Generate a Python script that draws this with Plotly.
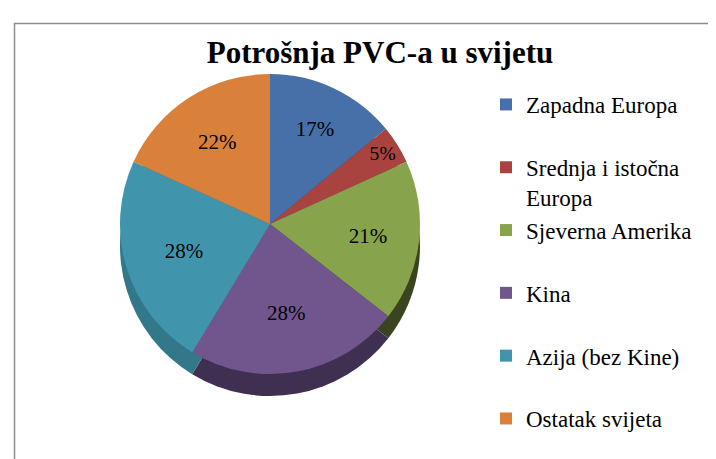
import plotly.graph_objects as go

categories = ["Zapadna Europa", "Srednja i istočna Europa", "Sjeverna Amerika",
              "Kina", "Azija (bez Kine)", "Ostatak svijeta"]
values = [17, 5, 21, 28, 28, 22]
colors = ["#4670A7", "#A9433F", "#87A34B", "#71568D", "#4095AD", "#D9813B"]
side_colors = ["#2C4A70", "#6E2A28", "#3A4520", "#3F3052", "#33788A", "#8E5426"]

# legend labels (wrapped / spaced like the original legend)
legend_labels = [
    "Zapadna Europa<br> ",
    "Srednja i istočna<br>Europa",
    "Sjeverna Amerika<br> ",
    "Kina<br> ",
    "Azija (bez Kine)<br> ",
    "Ostatak svijeta",
]

W, H = 716, 459
cx, cy, r = 262, 216, 150
depth = 22

def dom(cx, cy, r):
    return dict(x=[(cx - r) / W, (cx + r) / W], y=[1 - (cy + r) / H, 1 - (cy - r) / H])

SERIF = "Liberation Serif, Times New Roman, serif"

fig = go.Figure()
# side (depth) layer
fig.add_trace(go.Pie(
    labels=legend_labels, values=values, sort=False, direction="clockwise", rotation=0,
    marker=dict(colors=side_colors, line=dict(width=0)),
    textinfo="none", showlegend=False, hoverinfo="skip",
    domain=dom(cx, cy + depth, r),
))
# top layer
fig.add_trace(go.Pie(
    labels=legend_labels, values=values, sort=False, direction="clockwise", rotation=0,
    marker=dict(colors=colors, line=dict(width=0)),
    text=[f"{v}%" for v in values], textinfo="text", textposition="inside",
    insidetextorientation="horizontal",
    textfont=dict(family=SERIF, size=21, color="black"),
    domain=dom(cx, cy, r),
    hovertemplate="%{label}: %{text}<extra></extra>",
))

fig.update_layout(
    width=W, height=H,
    margin=dict(l=0, r=0, t=0, b=0),
    paper_bgcolor="white",
    font=dict(family=SERIF, color="black"),
    title=dict(text="<b>Potrošnja PVC-a u svijetu</b>", x=372 / W, xanchor="center",
               y=1 - 44 / H, yanchor="middle",
               font=dict(family=SERIF, size=31, color="black")),
    legend=dict(x=478 / W, y=1 - 75 / H, xanchor="left", yanchor="top",
                font=dict(family=SERIF, size=23, color="black"),
                valign="top", bgcolor="rgba(0,0,0,0)", itemclick=False,
                maxheight=1000),
    shapes=[dict(type="rect", xref="paper", yref="paper",
                 x0=6.5 / W, x1=1.02, y0=-0.02, y1=1 - 15.5 / H,
                 line=dict(color="#8C8C8C", width=1.5), fillcolor="rgba(0,0,0,0)")],
)

fig.write_html("out.html")
